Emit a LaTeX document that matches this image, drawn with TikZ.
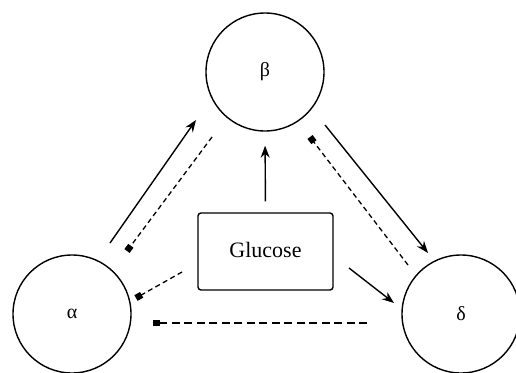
\documentclass[tikz,border=0pt]{standalone}
\usepackage{fontspec}
\setmainfont{Liberation Serif}
\usetikzlibrary{arrows.meta}
\begin{document}
\begin{tikzpicture}[x=1pt,y=-1pt,
  cell/.style={circle,draw,line width=1.4pt,minimum size=118pt,inner sep=0pt,font=\fontsize{20}{22}\selectfont},
  gbox/.style={draw,rounded corners=3pt,line width=1.4pt,minimum width=135pt,minimum height=77pt,inner sep=0pt,font=\fontsize{22}{24}\selectfont},
  stim/.style={line width=1.4pt,-{Stealth[length=12pt,width=9pt]}},
  inhib/.style={line width=1.3pt,dash pattern=on 5pt off 3.5pt,-{Square[length=6.5pt,width=6.5pt]}},
  inhibl/.style={inhib,dash pattern=on 8pt off 4.5pt}]
\useasboundingbox (0,0) rectangle (516,372);
\clip (0,0) rectangle (516,372);
\node[cell] (beta) at (265,72) {β};
\node[cell] (alpha) at (72,314) {α};
\node[cell] (delta) at (461,314) {δ};
\node[gbox] (glu) at (265.5,251.5) {\raisebox{4pt}{Glucose}};
% endpoints
\coordinate (a1) at (110,243); \coordinate (b1) at (196,120);
\coordinate (b2) at (212,137); \coordinate (a2) at (127,251);
\coordinate (b3) at (325,125); \coordinate (d1) at (428,253);
\coordinate (d2) at (408,265); \coordinate (b4) at (310,137);
\coordinate (g2) at (349,268); \coordinate (d3) at (394,303);
\coordinate (g3) at (182,272); \coordinate (a3) at (136,298);
\coordinate (d4) at (367,323); \coordinate (a4) at (153,323);
\draw[stim] (a1) -- (b1);
\draw[inhib] (b2) -- (a2);
\draw[stim] (b3) -- (d1);
\draw[inhib] (d2) -- (b4);
\draw[stim,shorten <=11pt,shorten >=14pt] (glu.north) -- (beta.south);
\draw[stim] (g2) -- (d3);
\draw[inhib] (g3) -- (a3);
\draw[inhibl] (d4) -- (a4);
\end{tikzpicture}
\end{document}
